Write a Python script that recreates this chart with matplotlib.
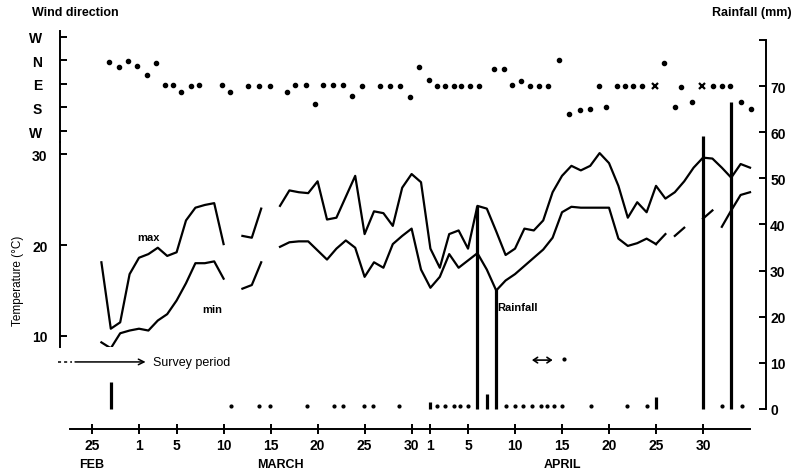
import numpy as np
import matplotlib
matplotlib.use('Agg')
import matplotlib.pyplot as plt

plt.rcParams['font.family'] = ['Liberation Sans', 'DejaVu Sans']

# day 0 = 25 Feb (1984, leap year so 1 March = day 5, 1 April = day 36)
days = np.arange(71)
nan = np.nan

# daily max / min temperature (deg C), nan where no reading
tMax = [nan, 18.1, 10.8, 11.5, 16.8, 18.6, 19.0, 19.7, 18.8, 19.2,
        22.7, 24.1, 24.4, 24.6, 20.1, nan, 21.0, 20.8, 24.0, nan,
        24.3, 26.0, 25.8, 25.7, 27.0, 22.8, 23.0, 25.3, 27.6, 21.2,
        23.7, 23.5, 22.1, 26.3, 27.8, 26.9, 19.6, 17.5, 21.2, 21.6,
        19.6, 24.3, 24.0, 21.5, 18.9, 19.6, 21.8, 21.6, 22.7, 25.8,
        27.6, 28.7, 28.2, 28.7, 30.1, 29.0, 26.5, 23.0, 24.7, 23.6,
        26.5, 25.1, 25.8, 27.0, 28.5, 29.6, 29.5, 28.5, 27.4, 28.9,
        28.5]
tMin = [nan, 9.3, 8.65, 10.3, 10.6, 10.8, 10.6, 11.7, 12.4, 13.9,
        15.8, 18.0, 18.0, 18.2, 16.3, nan, 15.2, 15.6, 18.1, nan,
        19.8, 20.3, 20.4, 20.4, 19.4, 18.4, 19.6, 20.5, 19.7, 16.5,
        18.1, 17.5, 20.1, 21.0, 21.8, 17.3, 15.3, 16.5, 19.0, 17.5,
        18.3, 19.1, 17.3, 15.0, 16.1, 16.8, 17.7, 18.6, 19.5, 20.8,
        23.6, 24.2, 24.1, 24.1, 24.1, 24.1, 20.7, 19.9, 20.2, 20.7,
        20.1, nan, nan, nan, nan, nan, nan, nan, nan, nan,
        nan]
# broken min line at the end of the record (day, temp)
tMinPieces = [[(60, 20.1), (61, 21.2)],
              [(62, 21.0), (63, 21.9)],
              [(65, 22.9), (66, 23.8)],
              [(67, 22.0), (68, 23.8), (69, 25.5), (70, 25.8)]]

# wind direction: 0 = W, 1 = S, 2 = E, 3 = N, 4 = W
windDay = [1.84, 2.9, 3.8, 4.75, 5.8, 6.8, 7.8, 8.65, 9.5, 10.5,
           11.4, 13.8, 14.7, 16.6, 17.8, 18.9, 20.7, 21.6, 22.8, 23.7,
           24.6, 25.6, 26.7, 27.7, 28.7, 30.6, 31.7, 32.8, 33.8, 34.8,
           35.8, 36.7, 37.6, 38.5, 39.3, 40.2, 41.2, 42.8, 43.8, 44.7,
           45.6, 46.6, 47.6, 48.5, 49.7, 50.7, 51.9, 53.0, 53.9, 54.7,
           55.8, 56.7, 57.6, 58.5, 60.9, 62.0, 62.7, 63.8, 66.1, 67.0,
           67.9, 69.0, 70.1]
windDir = [2.95, 2.71, 2.97, 2.78, 2.4, 2.9, 1.96, 1.96, 1.65, 1.93,
           1.97, 1.97, 1.67, 1.93, 1.93, 1.93, 1.67, 1.96, 1.96, 1.15,
           1.96, 1.96, 1.97, 1.48, 1.93, 1.93, 1.93, 1.93, 1.43, 2.71,
           2.18, 1.93, 1.93, 1.93, 1.93, 1.93, 1.93, 2.64, 2.64, 1.96,
           2.14, 1.93, 1.93, 1.93, 3.03, 0.72, 0.89, 0.94, 1.9, 1.01,
           1.9, 1.9, 1.9, 1.9, 2.9, 1.0, 1.86, 1.22, 1.9, 1.9,
           1.9, 1.25, 0.94]
windCrossDay = [59.9, 64.9]
windCrossDir = [1.9, 1.9]

# rainfall (mm)
rainDay = [2, 36, 41, 42, 43, 60, 65, 68]
rainMm = [5.9, 1.5, 44.1, 3.2, 26.0, 2.6, 59.2, 66.5]
traceDay = [14.8, 17.8, 18.9, 22.9, 25.7, 26.7, 28.9, 29.9, 32.7, 36.7,
            37.6, 38.5, 39.1, 40.0, 44.0, 45.0, 45.9, 46.8, 47.8, 48.4,
            49.1, 50.0, 53.1, 56.9, 59.0, 67.0, 69.1]
traceMm = 0.7

tickDays = [0, 5, 9, 14, 19, 24, 29, 34, 36, 40, 45, 50, 55, 60, 65]
tickLabels = ['25', '1', '5', '10', '15', '20', '25', '30',
              '1', '5', '10', '15', '20', '25', '30']
months = [('FEB', 0), ('MARCH', 20), ('APRIL', 50)]

figW, figH = 796, 477
xLim = (-3.404, 71.70)
lw = 1.4


def box(top, bottom):
    # axes rectangle from pixel rows, all panels share left/right edges
    return [60 / figW, 1 - bottom / figH, 706 / figW, (bottom - top) / figH]


def bare(a):
    a.patch.set_visible(False)
    for s in a.spines.values():
        s.set_visible(False)
    a.set_xlim(*xLim)
    a.set_xticks([])


fig = plt.figure(figsize=(figW / 100, figH / 100), dpi=100)

# rainfall + date axis
ax = fig.add_axes(box(30, 430))
bare(ax)
ax.set_ylim(-4.335, 82.36)
ax.spines['right'].set_visible(True)
ax.spines['right'].set_bounds(0, 80)
ax.spines['right'].set_linewidth(lw)
ax.spines['bottom'].set_visible(True)
ax.spines['bottom'].set_bounds(-2.3, 70)
ax.spines['bottom'].set_linewidth(lw)
ax.yaxis.tick_right()
ax.set_yticks(range(0, 81, 10))
ax.set_yticklabels([str(v) for v in range(0, 71, 10)] + [''])
ax.tick_params(axis='y', direction='in', length=5, width=lw, pad=3,
               labelsize=10)
ax.set_xticks(tickDays)
ax.set_xticklabels(tickLabels)
ax.tick_params(axis='x', direction='inout', length=7, width=lw, pad=3,
               labelsize=10)
for lab in ax.get_xticklabels() + ax.get_yticklabels():
    lab.set_fontweight('bold')
for name, d in months:
    ax.text(d, -11.9, name, ha='center', va='center', fontsize=9,
            fontweight='bold', clip_on=False)

# rain drawn as heavy vertical strokes
ax.vlines(rainDay, 0, rainMm, color='black', lw=2.3)
ax.plot(traceDay, [traceMm] * len(traceDay), 'o', color='black', ms=2)
ax.text(43.1, 22, 'Rainfall', fontsize=8, fontweight='bold',
        ha='left', va='center')

# survey period arrow
ax.plot([-3.6, -2.1], [10.2, 10.2], color='black', lw=1.1,
        ls=(0, (2, 2)), clip_on=False)
ax.annotate('', xy=(6.0, 10.2), xytext=(-2.1, 10.2),
            arrowprops=dict(arrowstyle='->', color='black', lw=1.1),
            annotation_clip=False)
ax.text(6.5, 10.2, 'Survey period', fontsize=9, ha='left', va='center')
ax.annotate('', xy=(49.0, 10.6), xytext=(46.8, 10.6),
            arrowprops=dict(arrowstyle='<->,head_length=0.3,head_width=0.2',
                            color='black', lw=1.2, shrinkA=0, shrinkB=0))
ax.plot([50.2], [10.8], 'o', color='black', ms=2)

# wind direction panel
axW = fig.add_axes(box(32, 143))
bare(axW)
axW.set_ylim(-0.468, 4.255)
axW.spines['left'].set_visible(True)
axW.spines['left'].set_linewidth(lw)
axW.set_yticks([0, 1, 2, 3, 4])
axW.set_yticklabels(['W', 'S', 'E', 'N', 'W'], fontweight='bold')
axW.tick_params(axis='y', direction='in', length=5, width=lw, pad=13,
                labelsize=10)
axW.plot(windDay, windDir, 'o', color='black', ms=3)
axW.plot(windCrossDay, windCrossDir, 'x', color='black', ms=5, mew=1.6)

# temperature panel
axT = fig.add_axes(box(143, 348))
bare(axT)
axT.set_ylim(8.79, 31.32)
axT.spines['left'].set_visible(True)
axT.spines['left'].set_linewidth(lw)
axT.set_yticks([10, 20, 30])
axT.set_yticklabels(['10', '20', '30'], fontweight='bold')
axT.tick_params(axis='y', direction='in', length=5, width=lw, pad=9,
                labelsize=10)
axT.plot(days, tMax, color='black', lw=1.6)
axT.plot(days, tMin, color='black', lw=1.6)
for piece in tMinPieces:
    px, py = zip(*piece)
    axT.plot(px, py, color='black', lw=1.6)
axT.text(6.0, 20.9, 'max', fontsize=8, fontweight='bold',
         ha='center', va='center')
axT.text(12.8, 13.0, 'min', fontsize=8, fontweight='bold',
         ha='center', va='center')

fig.text(32 / figW, 1 - 13 / figH, 'Wind direction', fontsize=9,
         fontweight='bold', ha='left', va='center')
fig.text(792 / figW, 1 - 13 / figH, 'Rainfall (mm)', fontsize=9,
         fontweight='bold', ha='right', va='center')
fig.text(18 / figW, 1 - 281 / figH, 'Temperature (\u00b0C)', fontsize=8.5,
         rotation=90, ha='center', va='center')

fig.savefig('out.png', dpi=100)
